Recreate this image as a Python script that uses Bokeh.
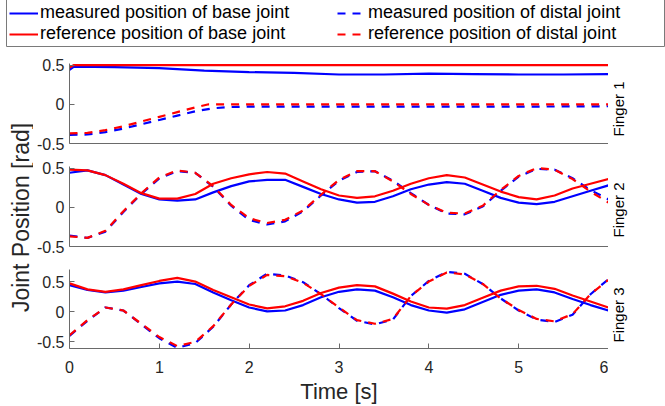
import numpy as np
from bokeh.plotting import figure
from bokeh.models import Range1d, Label, Legend, LegendItem, FixedTicker
from bokeh.layouts import column, row
from bokeh.embed import file_html
from bokeh.resources import INLINE
from bokeh.core.properties import value

FONT = "Liberation Sans"
BLUE = "#0000ff"
RED = "#ff0000"
DASH = "8 7"

# ---------------- data ----------------
x_ticks = [0, 1, 2, 3, 4, 5, 6]
y_ticks = [-0.5, 0, 0.5]
y_tick_labels = ["-0.5", "0", "0.5"]
finger_names = ["Finger 1", "Finger 2", "Finger 3"]
series_names = ["measured position of base joint", "measured position of distal joint",
                "reference position of base joint", "reference position of distal joint"]
y_title = "Joint Position [rad]"
x_title = "Time [s]"

# Finger 1
f1_base_ref_t = [0, 0.05, 6]
f1_base_ref = [0.47, 0.5, 0.5]
f1_base_meas_t = [0, 0.05, 0.5, 1.0, 1.5, 2.0, 2.5, 3.0, 3.5, 4.0, 4.5, 5.0, 5.5, 6.0]
f1_base_meas = [0.44, 0.48, 0.475, 0.46, 0.43, 0.41, 0.40, 0.38, 0.38, 0.39, 0.385, 0.38, 0.38, 0.385]
f1_dist_ref_t = [0, 0.2, 0.4, 0.6, 0.8, 1.0, 1.2, 1.4, 1.55, 1.8, 6.0]
f1_dist_ref = [-0.37, -0.365, -0.33, -0.28, -0.22, -0.16, -0.10, -0.04, 0.0, 0.0, 0.0]
f1_dist_meas_t = [0, 0.2, 0.4, 0.6, 0.8, 1.0, 1.2, 1.4, 1.6, 1.8, 2.0, 3.0, 4.0, 5.0, 6.0]
f1_dist_meas = [-0.39, -0.385, -0.355, -0.31, -0.255, -0.2, -0.145, -0.09, -0.05, -0.035,
                -0.03, -0.03, -0.03, -0.03, -0.025]

# common time grid for fingers 2 and 3
t_grid = [0.0, 0.2, 0.4, 0.6, 0.8, 1.0, 1.2, 1.4, 1.6, 1.8, 2.0, 2.2, 2.4, 2.6, 2.8, 3.0,
          3.2, 3.4, 3.6, 3.8, 4.0, 4.2, 4.4, 4.6, 4.8, 5.0, 5.2, 5.4, 5.6, 5.8, 6.0]

# Finger 2
f2_base_ref = [0.48, 0.47, 0.41, 0.30, 0.18, 0.11, 0.11, 0.17, 0.30, 0.37, 0.42, 0.45, 0.43,
               0.33, 0.23, 0.15, 0.12, 0.14, 0.21, 0.30, 0.37, 0.41, 0.38, 0.29, 0.20, 0.13,
               0.10, 0.15, 0.24, 0.30, 0.36]
f2_base_meas = [0.44, 0.47, 0.41, 0.29, 0.17, 0.10, 0.085, 0.10, 0.19, 0.27, 0.33, 0.35, 0.35,
                0.26, 0.17, 0.10, 0.06, 0.07, 0.14, 0.23, 0.29, 0.32, 0.30, 0.21, 0.12, 0.06,
                0.04, 0.07, 0.14, 0.21, 0.28]
f2_dist_ref = [-0.37, -0.39, -0.30, -0.05, 0.18, 0.38, 0.47, 0.44, 0.27, 0.03, -0.14, -0.20,
               -0.16, -0.04, 0.16, 0.35, 0.46, 0.46, 0.33, 0.17, 0.03, -0.07, -0.08, 0.02,
               0.22, 0.40, 0.50, 0.48, 0.36, 0.20, 0.06]
f2_dist_meas = [-0.36, -0.39, -0.31, -0.06, 0.17, 0.37, 0.46, 0.44, 0.26, 0.02, -0.16, -0.22,
                -0.18, -0.05, 0.15, 0.34, 0.45, 0.46, 0.34, 0.18, 0.03, -0.08, -0.09, 0.01,
                0.21, 0.39, 0.49, 0.48, 0.37, 0.22, 0.10]

# Finger 3
f3_base_ref = [0.47, 0.37, 0.33, 0.37, 0.44, 0.51, 0.56, 0.50, 0.36, 0.24, 0.12, 0.055, 0.09,
               0.18, 0.31, 0.40, 0.44, 0.42, 0.30, 0.17, 0.07, 0.05, 0.11, 0.23, 0.35, 0.42,
               0.43, 0.38, 0.27, 0.17, 0.07]
f3_base_meas = [0.44, 0.36, 0.32, 0.35, 0.41, 0.47, 0.50, 0.46, 0.32, 0.19, 0.07, 0.005, 0.02,
                0.11, 0.24, 0.33, 0.37, 0.35, 0.24, 0.11, 0.02, -0.015, 0.04, 0.16, 0.28, 0.35,
                0.37, 0.32, 0.21, 0.11, 0.02]
f3_dist_ref = [-0.39, -0.14, 0.07, 0.02, -0.20, -0.42, -0.57, -0.50, -0.24, 0.12, 0.43, 0.61,
               0.59, 0.48, 0.29, 0.07, -0.14, -0.20, -0.12, 0.26, 0.50, 0.65, 0.62, 0.46, 0.22,
               0.03, -0.12, -0.16, -0.04, 0.29, 0.53]
f3_dist_meas = [-0.40, -0.15, 0.07, 0.02, -0.21, -0.44, -0.60, -0.52, -0.25, 0.12, 0.44, 0.63,
                0.60, 0.49, 0.29, 0.06, -0.15, -0.21, -0.13, 0.26, 0.51, 0.66, 0.63, 0.46, 0.22,
                0.02, -0.13, -0.17, -0.05, 0.29, 0.54]

panels = [
    dict(ylim=(-0.5, 0.52), base_meas=(f1_base_meas_t, f1_base_meas), dist_meas=(f1_dist_meas_t, f1_dist_meas),
         base_ref=(f1_base_ref_t, f1_base_ref), dist_ref=(f1_dist_ref_t, f1_dist_ref)),
    dict(ylim=(-0.5, 0.52), base_meas=(t_grid, f2_base_meas), dist_meas=(t_grid, f2_dist_meas),
         base_ref=(t_grid, f2_base_ref), dist_ref=(t_grid, f2_dist_ref)),
    dict(ylim=(-0.61, 0.70), base_meas=(t_grid, f3_base_meas), dist_meas=(t_grid, f3_dist_meas),
         base_ref=(t_grid, f3_base_ref), dist_ref=(t_grid, f3_dist_ref)),
]

AXIS_COLOR = "#6a6a6a"
TEXT_COLOR = "#262626"
NAN = [float("nan")]

# ---------------- legend figure ----------------
leg = figure(width=665, height=50, x_range=Range1d(0, 1), y_range=Range1d(0, 1),
             output_backend="svg", toolbar_location=None,
             x_axis_location=None, y_axis_location=None,
             min_border_left=6, min_border_right=0, min_border_top=0, min_border_bottom=1)
leg.grid.visible = False
leg.outline_line_color = "#7a7a7a"
leg.outline_line_width = 1
rb_m = leg.line(x=NAN, y=NAN, line_color=BLUE, line_width=2)
rd_m = leg.line(x=NAN, y=NAN, line_color=BLUE, line_width=2, line_dash=DASH)
rb_r = leg.line(x=NAN, y=NAN, line_color=RED, line_width=2)
rd_r = leg.line(x=NAN, y=NAN, line_color=RED, line_width=2, line_dash=DASH)


def make_legend(items, loc):
    lg = Legend(items=items, location=loc, orientation="vertical",
                border_line_color=None, background_fill_alpha=0,
                padding=0, margin=0, spacing=0,
                glyph_width=29, glyph_height=18, label_height=18, label_standoff=2,
                label_text_font_size="18px", label_text_font=FONT, label_text_color="black")
    return lg


legA = make_legend([LegendItem(label=series_names[0], renderers=[rb_m]),
                    LegendItem(label=series_names[2], renderers=[rb_r])], (3, 2))
legB = make_legend([LegendItem(label=series_names[1], renderers=[rd_m]),
                    LegendItem(label=series_names[3], renderers=[rd_r])], (331, 2))
leg.add_layout(legA)
leg.add_layout(legB)

# ---------------- y label figure ----------------
ylab = figure(width=33, height=358, x_range=Range1d(0, 33), y_range=Range1d(0, 358),
              output_backend="svg", toolbar_location=None,
              x_axis_location=None, y_axis_location=None, min_border=0)
ylab.grid.visible = False
ylab.outline_line_color = None
ylab.text(x=[20], y=[188], text=[y_title], angle=np.pi / 2,
          text_align="center", text_baseline="middle",
          text_font=value(FONT), text_font_size="23px", text_color=TEXT_COLOR)

# ---------------- finger label figure ----------------
flab = figure(width=57, height=358, x_range=Range1d(0, 57), y_range=Range1d(0, 358),
              output_backend="svg", toolbar_location=None,
              x_axis_location=None, y_axis_location=None, min_border=0)
flab.grid.visible = False
flab.outline_line_color = None
finger_label_y = [269, 168, 63]
for name, fy in zip(finger_names, finger_label_y):
    flab.add_layout(Label(x=10, y=fy, text=name, angle=np.pi / 2,
                          text_align="left", text_baseline="middle",
                          text_font=FONT, text_font_size="15px", text_color="black"))

# ---------------- panels ----------------
heights = [107, 103, 149]
tops = [16, 12, 12]
bottoms = [11, 11, 57]
figs = []
for i, pd_ in enumerate(panels):
    p = figure(width=575, height=heights[i], x_range=Range1d(0, 6), y_range=Range1d(*pd_["ylim"]),
               output_backend="svg", toolbar_location=None,
               min_border_left=35, min_border_right=0, min_border_top=tops[i], min_border_bottom=bottoms[i])
    p.grid.visible = False
    p.outline_line_color = None
    p.line(*pd_["base_meas"], line_color=BLUE, line_width=2.2)
    p.line(*pd_["dist_meas"], line_color=BLUE, line_width=2.2, line_dash=DASH)
    p.line(*pd_["base_ref"], line_color=RED, line_width=2.2)
    p.line(*pd_["dist_ref"], line_color=RED, line_width=2.2, line_dash=DASH)

    ya = p.yaxis[0]
    ya.ticker = FixedTicker(ticks=y_ticks)
    ya.major_label_overrides = {t: l for t, l in zip(y_ticks, y_tick_labels)}
    ya.major_tick_in = 5
    ya.major_tick_out = 0
    ya.minor_tick_line_color = None
    ya.major_label_standoff = 5
    ya.axis_line_color = AXIS_COLOR
    ya.major_tick_line_color = AXIS_COLOR
    ya.major_label_text_font = FONT
    ya.major_label_text_font_size = "16px"
    ya.major_label_text_color = TEXT_COLOR

    xa = p.xaxis[0]
    xa.axis_line_color = AXIS_COLOR
    xa.major_tick_line_color = AXIS_COLOR
    xa.minor_tick_line_color = None
    xa.major_tick_out = 0
    if i < 2:
        xa.ticker = FixedTicker(ticks=[])
        xa.major_tick_in = 0
        xa.major_label_standoff = 0
    else:
        xa.ticker = FixedTicker(ticks=x_ticks)
        xa.major_tick_in = 5
        xa.major_label_standoff = 12
        xa.major_label_text_font = FONT
        xa.major_label_text_font_size = "16px"
        xa.major_label_text_color = TEXT_COLOR
        xa.axis_label = x_title
        xa.axis_label_text_font = FONT
        xa.axis_label_text_font_size = "22px"
        xa.axis_label_text_font_style = "normal"
        xa.axis_label_text_color = TEXT_COLOR
        xa.axis_label_standoff = 3
    figs.append(p)

layout = column(leg, row(ylab, column(*figs), flab), margin=(-3, 0, 0, 0))

open("out.html", "w").write(file_html(layout, INLINE))
